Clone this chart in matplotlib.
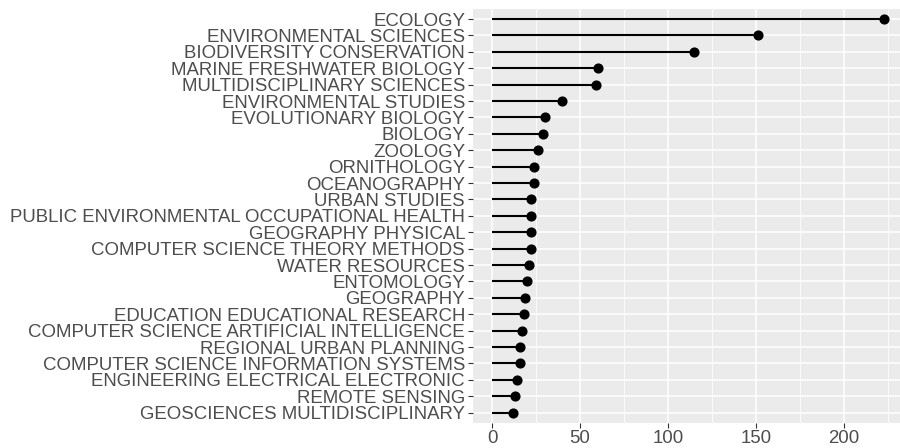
import matplotlib.pyplot as plt
from matplotlib.ticker import MultipleLocator

plt.rcParams['font.family'] = ['Liberation Sans', 'DejaVu Sans']

categories = [
    "ECOLOGY", "ENVIRONMENTAL SCIENCES", "BIODIVERSITY CONSERVATION",
    "MARINE FRESHWATER BIOLOGY", "MULTIDISCIPLINARY SCIENCES",
    "ENVIRONMENTAL STUDIES", "EVOLUTIONARY BIOLOGY", "BIOLOGY", "ZOOLOGY",
    "ORNITHOLOGY", "OCEANOGRAPHY", "URBAN STUDIES",
    "PUBLIC ENVIRONMENTAL OCCUPATIONAL HEALTH", "GEOGRAPHY PHYSICAL",
    "COMPUTER SCIENCE THEORY METHODS", "WATER RESOURCES", "ENTOMOLOGY",
    "GEOGRAPHY", "EDUCATION EDUCATIONAL RESEARCH",
    "COMPUTER SCIENCE ARTIFICIAL INTELLIGENCE", "REGIONAL URBAN PLANNING",
    "COMPUTER SCIENCE INFORMATION SYSTEMS",
    "ENGINEERING ELECTRICAL ELECTRONIC", "REMOTE SENSING",
    "GEOSCIENCES MULTIDISCIPLINARY",
]
counts = [223, 151, 115, 60, 59, 40, 30, 29, 26, 24, 24, 22, 22, 22, 22,
          21, 20, 19, 18, 17, 16, 16, 14, 13, 12]

fig = plt.figure(figsize=(9, 4.48), dpi=100)
ax = fig.add_axes([472.7 / 900, 1 - 422.5 / 448, 427.3 / 900, 413.3 / 448])
ax.set_facecolor('#EBEBEB')

n = len(categories)
ypos = list(range(n - 1, -1, -1))

ax.hlines(ypos, 0, counts, color='black', linewidth=1.5, zorder=3)
ax.plot(counts, ypos, 'o', color='black', markersize=6.3, zorder=4)

ax.set_xlim(-11, 232)
ax.set_ylim(-0.6, n - 1 + 0.6)
ax.xaxis.set_major_locator(MultipleLocator(50))
ax.xaxis.set_minor_locator(MultipleLocator(25))
ax.set_yticks(ypos)
ax.set_yticklabels(categories)

ax.grid(which='major', color='white', linewidth=1.1)
ax.grid(which='minor', axis='x', color='white', linewidth=0.55)
ax.set_axisbelow(True)
for s in ax.spines.values():
    s.set_visible(False)

ax.tick_params(axis='both', which='major', length=3.5, width=0.8,
               color='#333333', labelcolor='#4D4D4D', labelsize=13.4, pad=2)
ax.tick_params(axis='x', which='minor', length=0)

fig.savefig('out.png', dpi=100)
